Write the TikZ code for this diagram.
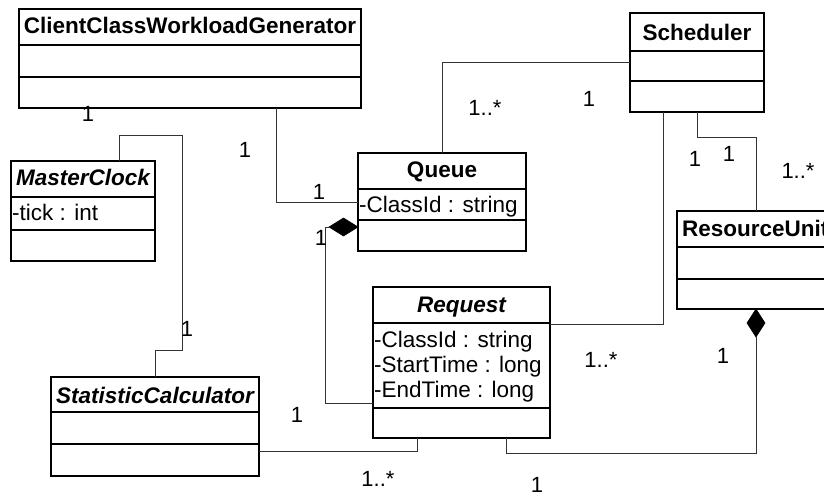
\documentclass[tikz,border=0pt]{standalone}
\usepackage{fontspec}
\setmainfont{Liberation Sans}
\usetikzlibrary{calc}

\tikzset{
  classbox/.style={draw, line width=1.5pt, anchor=north west, inner sep=0pt, outer sep=0pt},
  divider/.style={line width=1.5pt},
  title/.style={anchor=base, inner sep=0pt, font=\fontsize{22.5}{27}\selectfont\bfseries},
  atitle/.style={title, font=\fontsize{22.5}{27}\selectfont\bfseries\itshape},
  attr/.style={anchor=base west, inner sep=0pt, font=\fontsize{22.5}{27}\selectfont},
  mult/.style={inner sep=0pt, font=\fontsize{22}{26}\selectfont},
  link/.style={line width=1pt, draw=black!80},
  composite/.style={fill=black, draw=black, line width=0.6pt}
}

\begin{document}
\begin{tikzpicture}[x=1pt, y=-1pt]
\useasboundingbox (0,0) rectangle (824,495);
\clip (0,0) rectangle (824,495);

% ---- classes ----
\node[classbox, minimum width=342pt, minimum height=99pt] (ccwg) at (19,9) {};
\draw[divider] ([yshift=-36pt]ccwg.north west) -- ([yshift=-36pt]ccwg.north east);
\draw[divider] ([yshift=-68pt]ccwg.north west) -- ([yshift=-68pt]ccwg.north east);
\node[title] (ccwgT) at ([yshift=-25pt]ccwg.north) {ClientClassWorkloadGenerator};

\node[classbox, minimum width=144pt, minimum height=100pt] (mc) at (11,161) {};
\draw[divider] ([yshift=-36pt]mc.north west) -- ([yshift=-36pt]mc.north east);
\draw[divider] ([yshift=-69pt]mc.north west) -- ([yshift=-69pt]mc.north east);
\node[atitle] (mcT) at ([yshift=-24pt]mc.north) {MasterClock};
\node[attr] (mcA) at ([xshift=1pt,yshift=-59pt]mc.north west) {-tick : int};

\node[classbox, minimum width=168pt, minimum height=98pt] (queue) at (358,153) {};
\draw[divider] ([yshift=-36pt]queue.north west) -- ([yshift=-36pt]queue.north east);
\draw[divider] ([yshift=-67pt]queue.north west) -- ([yshift=-67pt]queue.north east);
\node[title] (queueT) at ([yshift=-24pt]queue.north) {Queue};
\node[attr] (queueA) at ([xshift=1pt,yshift=-59pt]queue.north west) {-ClassId : string};

\node[classbox, minimum width=134pt, minimum height=99pt] (sched) at (630,13) {};
\draw[divider] ([yshift=-38pt]sched.north west) -- ([yshift=-38pt]sched.north east);
\draw[divider] ([yshift=-68pt]sched.north west) -- ([yshift=-68pt]sched.north east);
\node[title] (schedT) at ([yshift=-28pt]sched.north) {Scheduler};

\node[classbox, minimum width=180pt, minimum height=98pt] (ru) at (677,211) {};
\draw[divider] ([yshift=-36pt]ru.north west) -- ([yshift=-36pt]ru.north east);
\draw[divider] ([yshift=-68pt]ru.north west) -- ([yshift=-68pt]ru.north east);
\node[title, anchor=base west] (ruT) at ([xshift=5pt,yshift=-25pt]ru.north west) {ResourceUnit};

\node[classbox, minimum width=177pt, minimum height=151pt] (req) at (373,287) {};
\draw[divider] ([yshift=-36pt]req.north west) -- ([yshift=-36pt]req.north east);
\draw[divider] ([yshift=-121pt]req.north west) -- ([yshift=-121pt]req.north east);
\node[atitle] (reqT) at ([yshift=-25pt]req.north) {Request};
\node[attr] (reqA1) at ([xshift=1pt,yshift=-60pt]req.north west) {-ClassId : string};
\node[attr] (reqA2) at ([xshift=1pt,yshift=-85pt]req.north west) {-StartTime : long};
\node[attr] (reqA3) at ([xshift=1pt,yshift=-110pt]req.north west) {-EndTime : long};

\node[classbox, minimum width=208pt, minimum height=99pt] (sc) at (51,377) {};
\draw[divider] ([yshift=-35pt]sc.north west) -- ([yshift=-35pt]sc.north east);
\draw[divider] ([yshift=-67pt]sc.north west) -- ([yshift=-67pt]sc.north east);
\node[atitle] (scT) at ([yshift=-26pt]sc.north) {StatisticCalculator};

% ---- associations ----
\draw[link] ([xshift=257pt]ccwg.south west) |- ([yshift=-49pt]queue.north west);
\draw[link] ([xshift=108pt]mc.north west) -- ++(0,-26) -| ++(63,215) -| ([xshift=104pt]sc.north west);
\draw[link] ([xshift=84pt]queue.north west) |- ([yshift=-50pt]sched.north west);
\draw[link] ([xshift=33pt]sched.south west) |- ([yshift=-37pt]req.north east);
\draw[link] ([xshift=67pt]sched.south west) -- ++(0,25) -| ([xshift=79pt]ru.north west);
\draw[link] ([yshift=-74pt]sc.north east) -| ([xshift=44pt]req.south west);

% ---- compositions ----
\coordinate (qd) at ([yshift=-74pt]queue.north west);
\draw[composite] (qd) -- ++(-14.5,-9) -- ++(-14.5,9) -- ++(14.5,9) -- cycle;
\draw[link] ($(qd)+(-29,0)$) -- ++(-4,0) |- ([yshift=-116pt]req.north west);

\coordinate (rd) at ([xshift=79pt]ru.south west);
\draw[composite] (rd) -- ++(9,14) -- ++(-9,14) -- ++(-9,-14) -- cycle;
\draw[link] ($(rd)+(0,28)$) |- ++(0,116) -| ([xshift=133pt]req.south west);

% ---- multiplicities ----
\node[mult] (m1) at (245,150) {1};
\node[mult] (m2) at (319,192) {1};
\node[mult] (m3) at (88,114) {1};
\node[mult] (m4) at (187,329) {1};
\node[mult] (m5) at (485,108) {1..*};
\node[mult] (m6) at (589,99) {1};
\node[mult] (m7) at (695,159) {1};
\node[mult] (m8) at (729,154) {1};
\node[mult] (m9) at (798,171) {1..*};
\node[mult] (m10) at (601,360) {1..*};
\node[mult] (m11) at (723,356) {1};
\node[mult] (m12) at (537,485) {1};
\node[mult] (m13) at (297,415) {1};
\node[mult] (m14) at (378,479) {1..*};
\node[mult] (m15) at (321,238) {1};
\end{tikzpicture}
\end{document}
